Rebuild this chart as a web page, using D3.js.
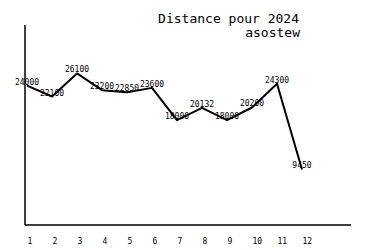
<!DOCTYPE html>
<html>
<head>
<meta charset="utf-8">
<script src="https://cdn.jsdelivr.net/npm/d3@7"></script>
<style>
  body { margin: 0; background: #fff; }
  svg { display: block; }
  text { font-family: "DejaVu Sans Mono", "Liberation Mono", monospace; fill: #000; }
</style>
</head>
<body>
<div id="chart"></div>
<script>
// données
let months = [1, 2, 3, 4, 5, 6, 7, 8, 9, 10, 11, 12];
let distances = [24000, 22100, 26100, 23200, 22850, 23600, 18000, 20132, 18000, 20200, 24300, 9450];
let title = 'Distance pour 2024';
let subtitle = 'asostew';

let width = 375, height = 250;
let svg = d3.select('#chart').append('svg')
    .attr('width', width)
    .attr('height', height);

let x = d3.scaleLinear().domain([1, 12]).range([27, 302]);
let y = d3.scaleLinear().domain([0, 34500]).range([224, 25]);

// axe x : trait + étiquettes
let xAxis = svg.append('g')
    .attr('transform', 'translate(0,225)')
    .call(d3.axisBottom(x).tickValues(months).tickFormat(d3.format('d')).tickSize(0).tickPadding(13));
xAxis.select('.domain').remove();
xAxis.selectAll('text')
    .attr('text-anchor', 'start')
    .attr('dx', 0)
    .style('font-size', '8px');
svg.append('line')
    .attr('x1', 25).attr('x2', 351)
    .attr('y1', 225).attr('y2', 225)
    .attr('stroke', '#000').attr('stroke-width', 1.5);

// axe y : seulement le trait
svg.append('line')
    .attr('x1', 25).attr('x2', 25)
    .attr('y1', 25).attr('y2', 225)
    .attr('stroke', '#000').attr('stroke-width', 1.5);

let line = d3.line()
    .x((d, i) => x(months[i]))
    .y(d => y(d));

svg.append('path')
    .datum(distances)
    .attr('fill', 'none')
    .attr('stroke', '#000')
    .attr('stroke-width', 2)
    .attr('stroke-linejoin', 'round')
    .attr('d', line);

svg.selectAll('.lbl')
    .data(distances)
    .enter().append('text')
    .attr('class', 'lbl')
    .attr('x', (d, i) => x(months[i]))
    .attr('y', d => y(d) - 1)
    .attr('text-anchor', 'middle')
    .style('font-size', '8px')
    .text(d => d);

svg.append('text')
    .attr('x', 299).attr('y', 23)
    .attr('text-anchor', 'end')
    .style('font-size', '13px')
    .text(title);
svg.append('text')
    .attr('x', 300).attr('y', 37)
    .attr('text-anchor', 'end')
    .style('font-size', '13px')
    .text(subtitle);
</script>
</body>
</html>
